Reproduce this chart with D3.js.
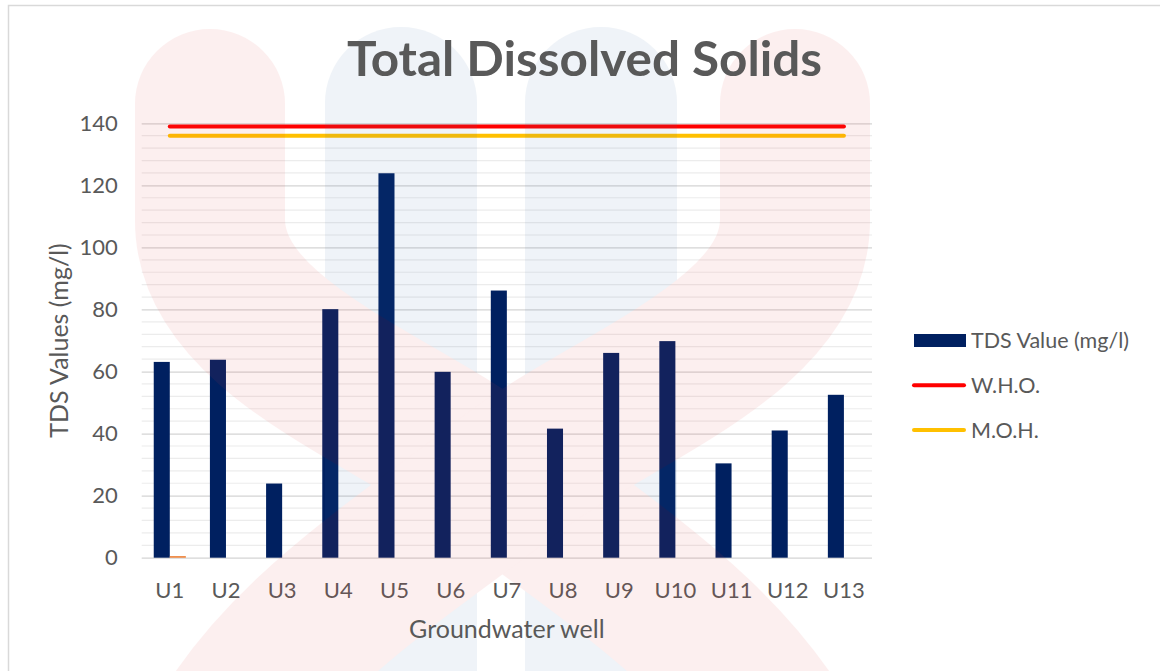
<!DOCTYPE html>
<html>
<head>
<meta charset="utf-8">
<script src="https://cdn.jsdelivr.net/npm/d3@7"></script>
<style>
  html, body { margin: 0; padding: 0; background: #ffffff; }
  svg { display: block; font-family: Lato, "Open Sans", "Noto Sans", sans-serif; }
</style>
</head>
<body>
<svg id="chart" width="1160" height="671"></svg>
<script>
// Groundwater wells and measured TDS values (mg/l)
const wells = ["U1","U2","U3","U4","U5","U6","U7","U8","U9","U10","U11","U12","U13"];
const tdsValues = [63.1, 63.8, 23.9, 80.1, 123.9, 59.9, 86.1, 41.6, 66.0, 69.8, 30.4, 41.0, 52.5];
const secondSeries = [0.5, 0, 0, 0, 0, 0, 0, 0, 0, 0, 0, 0, 0];
const whoLimit = [139, 139, 139, 139, 139, 139, 139, 139, 139, 139, 139, 139, 139];
const mohLimit = [136, 136, 136, 136, 136, 136, 136, 136, 136, 136, 136, 136, 136];
const yTicks = [0, 20, 40, 60, 80, 100, 120, 140];
const yMinorStep = 4;

const legendItems = [
  { label: "TDS Value (mg/l)", kind: "bar",  color: "#002060" },
  { label: "W.H.O.",           kind: "line", color: "#ff0000" },
  { label: "M.O.H.",           kind: "line", color: "#ffc000" }
];

const svg = d3.select("#chart");
const textColor = "#595959";

// Plot area
const plot = { left: 141.7, right: 872, top: 123.3, bottom: 557.7 };

const x = d3.scaleBand().domain(wells).range([plot.left, plot.right]).paddingInner(0).paddingOuter(0);
const y = d3.scaleLinear().domain([0, 140]).range([plot.bottom, plot.top]);

// Chart frame
svg.append("rect")
  .attr("x", 8.5).attr("y", 5.5).attr("width", 1170).attr("height", 700)
  .attr("fill", "#ffffff").attr("stroke", "#d9d9d9").attr("stroke-width", 1.5);

// Minor gridlines
const minorVals = d3.range(0, 140 + 0.001, yMinorStep).filter(v => v % 20 !== 0);
svg.append("g").selectAll("line").data(minorVals).join("line")
  .attr("x1", plot.left).attr("x2", plot.right)
  .attr("y1", d => y(d)).attr("y2", d => y(d))
  .attr("stroke", "#ececec").attr("stroke-width", 1.2);

// Major gridlines via axis
const yAxis = d3.axisLeft(y).tickValues(yTicks).tickSize(-(plot.right - plot.left)).tickPadding(24);
const gy = svg.append("g").attr("transform", `translate(${plot.left},0)`).call(yAxis);
gy.select(".domain").remove();
gy.selectAll(".tick line").attr("stroke", "#d4d4d4").attr("stroke-width", 1.3);
gy.selectAll(".tick text")
  .attr("fill", textColor).attr("font-size", 22).attr("font-family", "Lato, 'Open Sans', sans-serif");

// Bars: two series clustered per well
const barW = x.bandwidth() / 3.5;
const groupOffset = (x.bandwidth() - 2 * barW) / 2;

svg.append("g").selectAll("rect").data(wells).join("rect")
  .attr("x", d => x(d) + groupOffset)
  .attr("y", (d, i) => y(tdsValues[i]))
  .attr("width", barW)
  .attr("height", (d, i) => y(0) - y(tdsValues[i]))
  .attr("fill", "#002060");

svg.append("g").selectAll("rect").data(wells).join("rect")
  .attr("x", d => x(d) + groupOffset + barW)
  .attr("y", (d, i) => y(secondSeries[i]))
  .attr("width", barW)
  .attr("height", (d, i) => y(0) - y(secondSeries[i]))
  .attr("fill", "#ed7d31");

// Limit lines
const line = d3.line().x(d => x(d.w) + x.bandwidth() / 2).y(d => y(d.v));
svg.append("path")
  .datum(wells.map((w, i) => ({ w, v: mohLimit[i] })))
  .attr("d", line).attr("fill", "none").attr("stroke", "#ffc000")
  .attr("stroke-width", 4).attr("stroke-linecap", "round");
svg.append("path")
  .datum(wells.map((w, i) => ({ w, v: whoLimit[i] })))
  .attr("d", line).attr("fill", "none").attr("stroke", "#ff0000")
  .attr("stroke-width", 4).attr("stroke-linecap", "round");

// Category axis labels
const xAxis = d3.axisBottom(x).tickSize(0).tickPadding(0);
const gx = svg.append("g").attr("transform", `translate(0,${plot.bottom})`).call(xAxis);
gx.select(".domain").remove();
gx.selectAll(".tick text")
  .attr("fill", textColor).attr("font-size", 22)
  .attr("font-family", "Lato, 'Open Sans', sans-serif")
  .attr("dy", null).attr("y", 40.5);

// Faint logo watermark across the chart area
const logo = svg.append("g").attr("opacity", 0.08).style("pointer-events", "none");
[401, 601].forEach(cx => {
  logo.append("path")
    .attr("d", `M${cx},103 L${cx},800`)
    .attr("fill", "none").attr("stroke", "#3c6eaa")
    .attr("stroke-width", 152).attr("stroke-linecap", "round");
});
const bandA = "M210,104 L210,220 C210,340 400,400 502,480 C604,560 740,640 800,770";
const bandB = "M795,104 L795,220 C795,340 605,400 503,480 C401,560 265,640 205,770";
[bandA, bandB].forEach(d => {
  logo.append("path").attr("d", d)
    .attr("fill", "none").attr("stroke", "#e63c3c")
    .attr("stroke-width", 150).attr("stroke-linecap", "round");
});

// Title
svg.append("text")
  .attr("x", 584.5).attr("y", 76)
  .attr("text-anchor", "middle")
  .attr("font-size", 47).attr("font-weight", "bold")
  .attr("fill", textColor)
  .attr("textLength", 475).attr("lengthAdjust", "spacingAndGlyphs")
  .text("Total Dissolved Solids");

// Axis titles
svg.append("text")
  .attr("x", (plot.left + plot.right) / 2).attr("y", 638)
  .attr("text-anchor", "middle").attr("font-size", 25).attr("fill", textColor)
  .text("Groundwater well");

svg.append("text")
  .attr("transform", `translate(68,${(plot.top + plot.bottom) / 2}) rotate(-90)`)
  .attr("text-anchor", "middle").attr("font-size", 25).attr("fill", textColor)
  .text("TDS Values (mg/l)");

// Legend
const legend = svg.append("g").attr("transform", "translate(912,340.5)");
legendItems.forEach((item, i) => {
  const row = legend.append("g").attr("transform", `translate(0,${i * 44.7})`);
  if (item.kind === "bar") {
    row.append("rect").attr("x", 2).attr("y", -6.5).attr("width", 52).attr("height", 13).attr("fill", item.color);
  } else {
    row.append("line").attr("x1", 2).attr("x2", 52).attr("y1", 0).attr("y2", 0)
      .attr("stroke", item.color).attr("stroke-width", 4).attr("stroke-linecap", "round");
  }
  row.append("text").attr("x", 59).attr("y", 7.8)
    .attr("font-size", 21.5).attr("fill", textColor).text(item.label);
});
</script>
</body>
</html>
